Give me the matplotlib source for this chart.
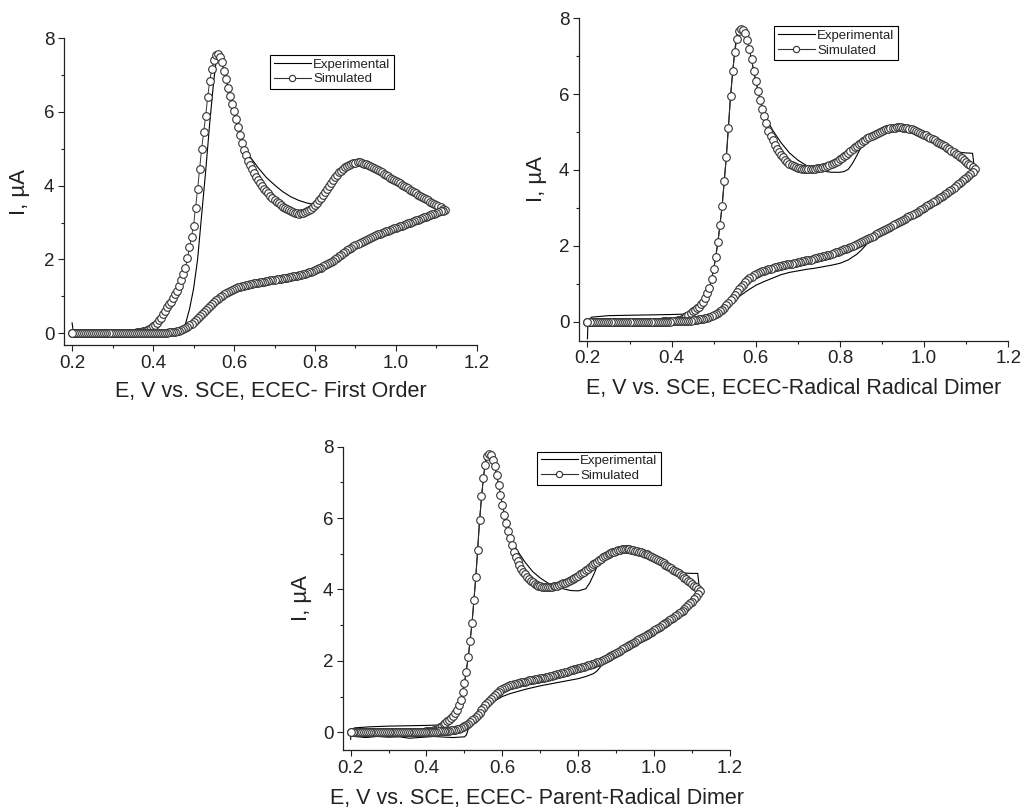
import matplotlib
matplotlib.use("Agg")
import matplotlib.pyplot as plt
from matplotlib.lines import Line2D
from matplotlib.ticker import MultipleLocator

plt.rcParams['font.family'] = ['Liberation Sans', 'DejaVu Sans']

# potential grid of the simulated sweep (V vs. SCE), 5 mV steps
E_FWD = [0.200, 0.205, 0.210, 0.215, 0.220, 0.225, 0.230, 0.235, 0.240, 0.245,
         0.250, 0.255, 0.260, 0.265, 0.270, 0.275, 0.280, 0.285, 0.290, 0.295,
         0.300, 0.305, 0.310, 0.315, 0.320, 0.325, 0.330, 0.335, 0.340, 0.345,
         0.350, 0.355, 0.360, 0.365, 0.370, 0.375, 0.380, 0.385, 0.390, 0.395,
         0.400, 0.405, 0.410, 0.415, 0.420, 0.425, 0.430, 0.435, 0.440, 0.445,
         0.450, 0.455, 0.460, 0.465, 0.470, 0.475, 0.480, 0.485, 0.490, 0.495,
         0.500, 0.505, 0.510, 0.515, 0.520, 0.525, 0.530, 0.535, 0.540, 0.545,
         0.550, 0.555, 0.560, 0.565, 0.570, 0.575, 0.580, 0.585, 0.590, 0.595,
         0.600, 0.605, 0.610, 0.615, 0.620, 0.625, 0.630, 0.635, 0.640, 0.645,
         0.650, 0.655, 0.660, 0.665, 0.670, 0.675, 0.680, 0.685, 0.690, 0.695,
         0.700, 0.705, 0.710, 0.715, 0.720, 0.725, 0.730, 0.735, 0.740, 0.745,
         0.750, 0.755, 0.760, 0.765, 0.770, 0.775, 0.780, 0.785, 0.790, 0.795,
         0.800, 0.805, 0.810, 0.815, 0.820, 0.825, 0.830, 0.835, 0.840, 0.845,
         0.850, 0.855, 0.860, 0.865, 0.870, 0.875, 0.880, 0.885, 0.890, 0.895,
         0.900, 0.905, 0.910, 0.915, 0.920, 0.925, 0.930, 0.935, 0.940, 0.945,
         0.950, 0.955, 0.960, 0.965, 0.970, 0.975, 0.980, 0.985, 0.990, 0.995,
         1.000, 1.005, 1.010, 1.015, 1.020, 1.025, 1.030, 1.035, 1.040, 1.045,
         1.050, 1.055, 1.060, 1.065, 1.070, 1.075, 1.080, 1.085, 1.090, 1.095,
         1.100, 1.105, 1.110, 1.115, 1.120]
E_REV = E_FWD[-2::-1]   # back from 1.115 to 0.200

# ECEC first order, simulated current (uA)
sim1_fwd = [0.0] * 28 + [
    0.01, 0.01, 0.01, 0.01, 0.02, 0.03, 0.04, 0.05, 0.07, 0.09,
    0.12, 0.15, 0.19, 0.23, 0.28, 0.35, 0.42, 0.51, 0.60, 0.70,
    0.78, 0.85, 0.95, 1.05, 1.15, 1.28, 1.45, 1.60, 1.78, 2.03,
    2.33, 2.62, 2.92, 3.40, 3.90, 4.45, 5.00, 5.45, 5.90, 6.40,
    6.85, 7.15, 7.40, 7.53, 7.57, 7.50, 7.35, 7.12, 6.88, 6.64,
    6.44, 6.22, 6.02, 5.82, 5.60, 5.38, 5.16, 4.96, 4.82, 4.68,
    4.55, 4.44, 4.34, 4.24, 4.15, 4.07, 4.00, 3.92, 3.85, 3.79,
    3.73, 3.67, 3.62, 3.57, 3.52, 3.47, 3.43, 3.39, 3.36, 3.33,
    3.30, 3.28, 3.26, 3.25, 3.24, 3.25, 3.26, 3.28, 3.30, 3.33,
    3.37, 3.42, 3.47, 3.53, 3.60, 3.67, 3.75, 3.83, 3.92, 4.00,
    4.08, 4.16, 4.23, 4.30, 4.36, 4.41, 4.46, 4.50, 4.54, 4.57,
    4.59, 4.61, 4.62, 4.63, 4.63, 4.62, 4.60, 4.58, 4.56, 4.54,
    4.51, 4.48, 4.45, 4.42, 4.39, 4.36, 4.32, 4.29, 4.25, 4.22,
    4.19, 4.15, 4.12, 4.09, 4.06, 4.02, 3.99, 3.96, 3.93, 3.89,
    3.86, 3.83, 3.80, 3.76, 3.73, 3.70, 3.67, 3.63, 3.60, 3.57,
    3.54, 3.50, 3.47, 3.44, 3.41, 3.38, 3.35]
sim1_rev = [
    3.32, 3.30, 3.28, 3.26, 3.24, 3.22, 3.20, 3.18, 3.16, 3.14,
    3.12, 3.10, 3.08, 3.06, 3.04, 3.02, 3.00, 2.98, 2.96, 2.94,
    2.92, 2.90, 2.88, 2.86, 2.84, 2.82, 2.80, 2.78, 2.76, 2.74,
    2.72, 2.70, 2.68, 2.66, 2.64, 2.61, 2.59, 2.56, 2.54, 2.51,
    2.48, 2.45, 2.42, 2.39, 2.36, 2.32, 2.29, 2.25, 2.21, 2.17,
    2.13, 2.09, 2.05, 2.01, 1.97, 1.94, 1.90, 1.87, 1.84, 1.81,
    1.78, 1.76, 1.73, 1.71, 1.69, 1.67, 1.65, 1.63, 1.61, 1.60,
    1.58, 1.57, 1.56, 1.55, 1.54, 1.53, 1.52, 1.51, 1.50, 1.49,
    1.48, 1.47, 1.46, 1.45, 1.44, 1.43, 1.42, 1.41, 1.40, 1.39,
    1.38, 1.37, 1.36, 1.35, 1.34, 1.33, 1.32, 1.30, 1.29, 1.27,
    1.26, 1.24, 1.22, 1.20, 1.18, 1.15, 1.12, 1.09, 1.06, 1.02,
    0.98, 0.93, 0.89, 0.84, 0.79, 0.73, 0.68, 0.62, 0.57, 0.51,
    0.46, 0.40, 0.35, 0.30, 0.25, 0.21, 0.17, 0.14, 0.11, 0.09,
    0.07, 0.05, 0.04, 0.03, 0.02, 0.02, 0.01, 0.01, 0.01, 0.01] + [0.0] * 44

# ECEC radical-radical dimer, simulated
sim2_fwd = [0.0] * 36 + [
    0.01, 0.01, 0.01, 0.01, 0.02, 0.02, 0.03, 0.04, 0.05, 0.07,
    0.10, 0.14, 0.18, 0.23, 0.27, 0.31, 0.35, 0.40, 0.46, 0.53,
    0.62, 0.75, 0.90, 1.12, 1.38, 1.70, 2.10, 2.55, 3.05, 3.70,
    4.35, 5.10, 5.95, 6.60, 7.10, 7.45, 7.66, 7.72, 7.70, 7.60,
    7.42, 7.18, 6.92, 6.62, 6.35, 6.08, 5.84, 5.62, 5.42, 5.24,
    5.04, 4.90, 4.78, 4.66, 4.56, 4.48, 4.40, 4.33, 4.27, 4.22,
    4.17, 4.13, 4.10, 4.08, 4.06, 4.04, 4.03, 4.02, 4.02, 4.02,
    4.02, 4.02, 4.03, 4.04, 4.05, 4.06, 4.08, 4.09, 4.11, 4.13,
    4.15, 4.18, 4.21, 4.24, 4.28, 4.32, 4.36, 4.40, 4.45, 4.50,
    4.55, 4.60, 4.64, 4.68, 4.72, 4.76, 4.80, 4.84, 4.87, 4.90,
    4.93, 4.96, 4.98, 5.01, 5.03, 5.05, 5.07, 5.09, 5.10, 5.11,
    5.12, 5.13, 5.13, 5.13, 5.12, 5.11, 5.10, 5.09, 5.07, 5.05,
    5.03, 5.01, 4.98, 4.96, 4.93, 4.91, 4.88, 4.85, 4.82, 4.79,
    4.75, 4.72, 4.69, 4.66, 4.62, 4.59, 4.55, 4.51, 4.47, 4.43,
    4.39, 4.35, 4.31, 4.27, 4.22, 4.17, 4.12, 4.07, 4.02]
sim2_rev = [
    3.96, 3.90, 3.84, 3.79, 3.75, 3.70, 3.66, 3.62, 3.57, 3.53,
    3.48, 3.44, 3.40, 3.36, 3.32, 3.29, 3.25, 3.22, 3.18, 3.15,
    3.11, 3.08, 3.04, 3.01, 2.97, 2.94, 2.90, 2.87, 2.84, 2.81,
    2.78, 2.75, 2.72, 2.69, 2.66, 2.63, 2.60, 2.57, 2.54, 2.51,
    2.48, 2.45, 2.42, 2.39, 2.36, 2.33, 2.30, 2.27, 2.24, 2.21,
    2.18, 2.15, 2.12, 2.10, 2.07, 2.05, 2.02, 2.00, 1.97, 1.95,
    1.93, 1.91, 1.89, 1.87, 1.85, 1.83, 1.81, 1.79, 1.77, 1.76,
    1.74, 1.73, 1.71, 1.70, 1.68, 1.67, 1.65, 1.64, 1.63, 1.62,
    1.60, 1.59, 1.58, 1.57, 1.55, 1.54, 1.53, 1.52, 1.51, 1.50,
    1.49, 1.48, 1.46, 1.45, 1.43, 1.42, 1.40, 1.39, 1.37, 1.35,
    1.33, 1.31, 1.29, 1.26, 1.22, 1.18, 1.14, 1.09, 1.04, 0.98,
    0.92, 0.85, 0.78, 0.71, 0.63, 0.56, 0.49, 0.43, 0.37, 0.32,
    0.28, 0.24, 0.21, 0.18, 0.15, 0.13, 0.11, 0.09, 0.08, 0.07,
    0.06, 0.05, 0.04, 0.04, 0.03, 0.03, 0.02, 0.02, 0.02, 0.02,
    0.01, 0.01, 0.01, 0.01] + [0.0] * 40

# ECEC parent-radical dimer, simulated
sim3_fwd = [0.0] * 36 + [
    0.01, 0.01, 0.01, 0.01, 0.02, 0.02, 0.03, 0.04, 0.05, 0.07,
    0.10, 0.14, 0.18, 0.23, 0.27, 0.31, 0.35, 0.40, 0.46, 0.53,
    0.62, 0.75, 0.90, 1.12, 1.38, 1.70, 2.10, 2.55, 3.05, 3.70,
    4.35, 5.10, 5.95, 6.62, 7.12, 7.50, 7.73, 7.80, 7.76, 7.64,
    7.45, 7.20, 6.93, 6.64, 6.36, 6.09, 5.85, 5.63, 5.43, 5.25,
    5.06, 4.92, 4.80, 4.69, 4.58, 4.50, 4.42, 4.35, 4.29, 4.24,
    4.20, 4.16, 4.13, 4.11, 4.09, 4.08, 4.07, 4.07, 4.07, 4.07,
    4.08, 4.09, 4.10, 4.11, 4.13, 4.15, 4.17, 4.19, 4.21, 4.23,
    4.26, 4.29, 4.32, 4.35, 4.39, 4.42, 4.46, 4.50, 4.54, 4.58,
    4.62, 4.66, 4.70, 4.74, 4.78, 4.82, 4.86, 4.90, 4.93, 4.96,
    4.99, 5.02, 5.04, 5.06, 5.08, 5.10, 5.11, 5.12, 5.12, 5.12,
    5.12, 5.12, 5.11, 5.10, 5.09, 5.08, 5.06, 5.04, 5.02, 5.00,
    4.98, 4.96, 4.93, 4.91, 4.88, 4.85, 4.82, 4.79, 4.76, 4.73,
    4.69, 4.66, 4.62, 4.59, 4.55, 4.52, 4.48, 4.45, 4.41, 4.37,
    4.33, 4.29, 4.25, 4.21, 4.16, 4.11, 4.06, 4.01, 3.95]
sim3_rev = [
    3.87, 3.80, 3.73, 3.66, 3.61, 3.56, 3.51, 3.46, 3.41, 3.37,
    3.33, 3.29, 3.25, 3.21, 3.17, 3.14, 3.10, 3.06, 3.03, 2.99,
    2.96, 2.92, 2.89, 2.85, 2.82, 2.78, 2.75, 2.72, 2.69, 2.66,
    2.63, 2.60, 2.57, 2.54, 2.51, 2.48, 2.45, 2.42, 2.39, 2.35,
    2.32, 2.28, 2.25, 2.21, 2.18, 2.15, 2.13, 2.10, 2.08, 2.05,
    2.03, 2.00, 1.98, 1.96, 1.94, 1.92, 1.90, 1.88, 1.87, 1.85,
    1.84, 1.82, 1.81, 1.79, 1.78, 1.76, 1.75, 1.73, 1.72, 1.70,
    1.69, 1.67, 1.66, 1.64, 1.63, 1.61, 1.60, 1.58, 1.57, 1.55,
    1.54, 1.53, 1.52, 1.51, 1.50, 1.49, 1.48, 1.47, 1.46, 1.45,
    1.44, 1.42, 1.41, 1.40, 1.39, 1.37, 1.36, 1.34, 1.33, 1.31,
    1.29, 1.27, 1.25, 1.22, 1.18, 1.14, 1.10, 1.05, 1.00, 0.94,
    0.88, 0.81, 0.75, 0.68, 0.61, 0.55, 0.49, 0.43, 0.38, 0.33,
    0.28, 0.24, 0.20, 0.17, 0.14, 0.12, 0.10, 0.08, 0.07, 0.06,
    0.05, 0.04, 0.03, 0.03, 0.02, 0.02, 0.02, 0.02, 0.01, 0.01,
    0.01, 0.01] + [0.0] * 42

# experimental voltammograms
exp1_E = [0.200, 0.203, 0.21, 0.25, 0.30, 0.35, 0.40, 0.44, 0.46, 0.47,
          0.48, 0.49, 0.50, 0.51, 0.52, 0.53, 0.54, 0.55, 0.555, 0.56,
          0.565, 0.57, 0.58, 0.59, 0.60, 0.61, 0.62, 0.63, 0.64, 0.66,
          0.68, 0.70, 0.72, 0.74, 0.76, 0.78, 0.80, 0.82, 0.84, 0.86,
          0.88, 0.90, 0.92, 0.96, 1.00, 1.04, 1.08, 1.12, 1.10, 1.05,
          1.00, 0.95, 0.90, 0.85, 0.80, 0.75, 0.70, 0.65, 0.60, 0.55,
          0.50, 0.47, 0.44, 0.40, 0.30, 0.21]
exp1_I = [0.28, 0.05, 0.0, 0.0, 0.0, 0.0, 0.0, 0.01, 0.02, 0.05,
          0.25, 0.65, 1.20, 2.00, 3.20, 4.40, 5.70, 6.85, 7.30, 7.52,
          7.50, 7.35, 6.90, 6.45, 6.02, 5.62, 5.25, 4.98, 4.78, 4.48,
          4.22, 4.02, 3.84, 3.70, 3.60, 3.53, 3.49, 3.75, 4.08, 4.36,
          4.54, 4.62, 4.60, 4.39, 4.12, 3.86, 3.60, 3.35, 3.26, 3.06,
          2.86, 2.66, 2.39, 2.01, 1.71, 1.55, 1.45, 1.35, 1.20, 0.84,
          0.30, 0.09, 0.02, 0.0, 0.0, 0.0]

exp2_E = [0.200, 0.201, 0.203, 0.21, 0.25, 0.30, 0.35, 0.40, 0.43, 0.44,
          0.45, 0.46, 0.47, 0.48, 0.49, 0.50, 0.51, 0.52, 0.53, 0.54,
          0.55, 0.555, 0.56, 0.565, 0.57, 0.58, 0.59, 0.60, 0.61, 0.62,
          0.63, 0.64, 0.66, 0.68, 0.70, 0.72, 0.74, 0.76, 0.78, 0.80,
          0.81, 0.82, 0.83, 0.84, 0.85, 0.86, 0.88, 0.90, 0.94, 0.98,
          1.02, 1.06, 1.08, 1.10, 1.115, 1.12, 1.11, 1.08, 1.04, 1.00,
          0.96, 0.92, 0.88, 0.87, 0.86, 0.85, 0.84, 0.82, 0.80, 0.78,
          0.76, 0.74, 0.72, 0.70, 0.68, 0.66, 0.64, 0.62, 0.60, 0.58,
          0.56, 0.54, 0.52, 0.50, 0.48, 0.46, 0.40, 0.30, 0.21]
exp2_I = [-0.45, -0.10, 0.05, 0.12, 0.16, 0.17, 0.18, 0.19, 0.20, 0.22,
          0.27, 0.35, 0.46, 0.62, 0.90, 1.38, 2.10, 3.05, 4.35, 5.95,
          7.15, 7.55, 7.78, 7.75, 7.66, 7.40, 6.90, 6.35, 5.88, 5.50,
          5.25, 5.05, 4.72, 4.45, 4.26, 4.12, 4.03, 3.97, 3.94, 3.94,
          3.96, 4.02, 4.18, 4.38, 4.60, 4.78, 4.93, 5.03, 5.13, 5.03,
          4.82, 4.55, 4.47, 4.45, 4.44, 4.00, 3.90, 3.62, 3.29, 3.01,
          2.75, 2.51, 2.25, 2.14, 2.00, 1.88, 1.78, 1.63, 1.54, 1.49,
          1.45, 1.41, 1.38, 1.34, 1.30, 1.24, 1.15, 1.06, 0.96, 0.82,
          0.66, 0.47, 0.29, 0.12, 0.03, 0.01, 0.0, -0.01, -0.02]

exp3_E = [0.200, 0.202, 0.21, 0.25, 0.30, 0.35, 0.40, 0.43, 0.44, 0.45,
          0.46, 0.47, 0.48, 0.49, 0.50, 0.51, 0.52, 0.53, 0.54, 0.55,
          0.555, 0.56, 0.565, 0.57, 0.58, 0.59, 0.60, 0.61, 0.62, 0.63,
          0.64, 0.66, 0.68, 0.70, 0.72, 0.74, 0.76, 0.78, 0.80, 0.82,
          0.83, 0.84, 0.85, 0.86, 0.88, 0.92, 0.96, 1.00, 1.04, 1.06,
          1.08, 1.10, 1.115, 1.12, 1.11, 1.08, 1.04, 1.00, 0.96, 0.92,
          0.89, 0.88, 0.87, 0.86, 0.85, 0.84, 0.82, 0.80, 0.78, 0.74,
          0.70, 0.66, 0.62, 0.60, 0.58, 0.56, 0.54, 0.52, 0.51, 0.505,
          0.50, 0.47, 0.45, 0.42, 0.38, 0.355, 0.33, 0.30, 0.27, 0.24,
          0.21, 0.20]
exp3_I = [-0.20, 0.05, 0.12, 0.15, 0.17, 0.18, 0.19, 0.20, 0.22, 0.27,
          0.35, 0.46, 0.62, 0.90, 1.38, 2.10, 3.05, 4.35, 5.95, 7.15,
          7.55, 7.80, 7.80, 7.72, 7.45, 6.93, 6.38, 5.90, 5.52, 5.27,
          5.08, 4.76, 4.50, 4.32, 4.18, 4.09, 4.02, 3.97, 3.96, 4.02,
          4.18, 4.40, 4.65, 4.86, 4.99, 5.12, 5.06, 4.88, 4.62, 4.50,
          4.46, 4.45, 4.45, 3.95, 3.80, 3.46, 3.14, 2.85, 2.60, 2.35,
          2.15, 2.10, 1.98, 1.85, 1.72, 1.64, 1.56, 1.50, 1.46, 1.38,
          1.30, 1.20, 1.08, 1.00, 0.88, 0.72, 0.62, 0.28, 0.08, -0.08,
          -0.13, -0.15, -0.14, -0.12, -0.15, -0.17, -0.13, -0.14, -0.12, -0.15,
          -0.12, -0.10]

xlabels = ["E, V vs. SCE, ECEC- First Order",
           "E, V vs. SCE, ECEC-Radical Radical Dimer",
           "E, V vs. SCE, ECEC- Parent-Radical Dimer"]

ink = '#222222'
fig = plt.figure(figsize=(10.27, 8.09), dpi=100)

panels = [
    # rect, ymin, sim fwd, sim rev, exp E, exp I, legend anchor, ylabel x, xlabel y
    ([0.0623, 0.5735, 0.4021, 0.3794], -0.32, sim1_fwd, sim1_rev, exp1_E, exp1_I, (0.50, 0.945), -0.082, -0.118),
    ([0.5638, 0.5789, 0.4180, 0.3985], -0.50, sim2_fwd, sim2_rev, exp2_E, exp2_I, (0.455, 0.975), -0.074, -0.115),
    ([0.3340, 0.0729, 0.3768, 0.3749], -0.50, sim3_fwd, sim3_rev, exp3_E, exp3_I, (0.502, 0.984), -0.080, -0.126),
]

for k, (rect, ymin, sf, sr, ee, ie, anchor, ylx, xly) in enumerate(panels):
    ax = fig.add_axes(rect)
    ax.plot(ee, ie, color='black', lw=0.8, zorder=2)
    ax.plot(E_FWD + E_REV, sf + sr, color='#333333', lw=0.7, marker='o',
            ms=5.5, mfc='white', mec='#333333', mew=0.8, zorder=3)

    ax.set_xlim(0.18, 1.2)
    ax.set_ylim(ymin, 8)
    ax.xaxis.set_minor_locator(MultipleLocator(0.1))
    ax.yaxis.set_major_locator(MultipleLocator(2))
    ax.yaxis.set_minor_locator(MultipleLocator(1))
    ax.set_xticks([0.2, 0.4, 0.6, 0.8, 1.0, 1.2])
    ax.set_xticklabels(['0.2', '0.4', '0.6', '0.8', '1.0', '1.2'])
    for s in ['top', 'right']:
        ax.spines[s].set_visible(False)
    for s in ['left', 'bottom']:
        ax.spines[s].set_linewidth(0.9)
        ax.spines[s].set_color(ink)
    ax.tick_params(which='major', direction='out', length=4, width=0.8,
                   labelsize=13.5, colors=ink, pad=3)
    ax.tick_params(which='minor', direction='out', length=2.5, width=0.8, colors=ink)

    ax.set_xlabel(xlabels[k], fontsize=15.5, color=ink)
    ax.set_ylabel("I, \u00b5A", fontsize=16, color=ink)
    ax.xaxis.set_label_coords(0.5, xly)
    ax.xaxis.label.set_va('top')
    ax.yaxis.set_label_coords(ylx, 0.5)

    h_exp = Line2D([], [], color='black', lw=0.8)
    h_sim = Line2D([], [], color='#333333', lw=0.8, marker='o', ms=4.5,
                   mfc='white', mec='#333333', mew=0.8)
    leg = ax.legend([h_exp, h_sim], ['Experimental', 'Simulated'],
                    loc='upper left', bbox_to_anchor=anchor, fontsize=9.5,
                    frameon=True, fancybox=False, framealpha=1,
                    edgecolor='black', handlelength=2.8, handletextpad=0.2,
                    borderpad=0.25, labelspacing=0.2, borderaxespad=0,
                    numpoints=1)
    leg.get_frame().set_linewidth(0.8)
    for t in leg.get_texts():
        t.set_color(ink)

fig.savefig("out.png", dpi=100)
